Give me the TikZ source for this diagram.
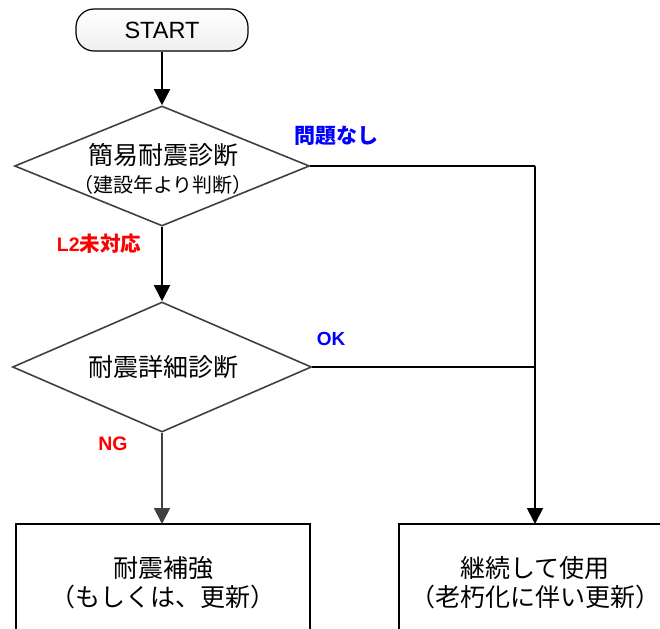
\documentclass[tikz,border=0pt]{standalone}
\usepackage{fontspec}
\setmainfont{Liberation Sans}
\newfontfamily\jp{Noto Sans CJK JP}
\usetikzlibrary{shapes.geometric,arrows.meta}
\definecolor{dgray}{HTML}{404040}
\definecolor{lblue}{HTML}{0000FF}
\definecolor{lred}{HTML}{FF0000}
\begin{document}
\begin{tikzpicture}[x=1pt,y=-1pt,
  dia/.style={diamond,draw=dgray,line width=1.6pt,inner sep=0pt,aspect=2.4},
  boxs/.style={draw=black,line width=1.8pt},
  conn/.style={line width=1.8pt,draw=black},
  arr/.style={conn,-{Triangle[length=16pt,width=16pt]}},
  blab/.style={font=\fontsize{19}{22}\selectfont\bfseries,text=lblue,inner sep=0pt},
  rlab/.style={font=\fontsize{19.5}{22}\selectfont\bfseries,text=lred,inner sep=0pt},
  big/.style={font=\fontsize{25}{29}\selectfont\jp,align=center,inner sep=0pt}]
\useasboundingbox (0,0) rectangle (660,628);
\clip (0,0) rectangle (660,628);
% START
\node[draw=black,line width=1.2pt,rounded corners=18pt,minimum width=172pt,minimum height=42pt,
  top color=white,bottom color=gray!12,font=\fontsize{23.5}{26}\selectfont,inner sep=0pt] (start) at (162,30) {START};
% diamonds
\node[dia,minimum width=295pt,minimum height=120pt] (d1) at (162,166) {};
\node[big,anchor=center] (d1t) at (163,155) {簡易耐震診断};
\node[font=\fontsize{20}{22}\selectfont\jp,inner sep=0pt] (d1s) at (163,185) {（建設年より判断）};
\node[dia,minimum width=299pt,minimum height=130pt] (d2) at (162,367) {};
\node[big] (d2t) at (163,367) {耐震詳細診断};
% boxes
\draw[boxs] (16,524) rectangle (310,660);
\node[big] (b1) at (163,583) {耐震補強\\（もしくは、更新）};
\draw[boxs] (399,524) rectangle (680,660);
\node[big] (b2) at (535,583) {継続して使用\\（老朽化に伴い更新）};
\coordinate (b1top) at (162,524);
\coordinate (b2top) at (535,524);
\coordinate (c1) at (535,166);
\coordinate (c2) at (535,367);
% connectors
\draw[arr] (start.south) -- (d1.north);
\draw[arr] (d1.south) -- (d2.north);
\draw[arr,draw=dgray,fill=dgray] (d2.south) -- (b1top);
\draw[conn] (d1.east) -- (c1);
\draw[arr] (c1) -- (b2top);
\draw[conn] (d2.east) -- (c2);
% labels
\node[blab,font=\fontsize{21}{24}\selectfont\bfseries\jp] (l1) at (336,136) {問題なし};
\node[rlab] (l2) at (99,244) {L2{\jp\fontsize{20.5}{24}\selectfont 未対応}};
\node[blab] (l3) at (331,339) {OK};
\node[rlab] (l4) at (113,444) {NG};
\end{tikzpicture}
\end{document}
